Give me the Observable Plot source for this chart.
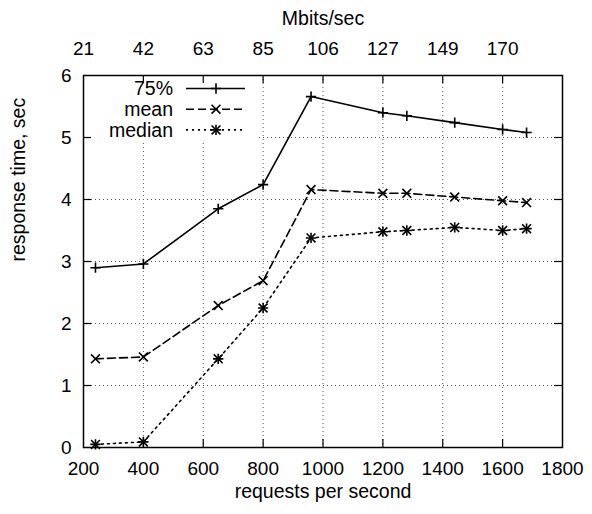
<!DOCTYPE html>
<html><head><meta charset="utf-8">
<script src="https://cdn.jsdelivr.net/npm/d3@7"></script>
<script src="https://cdn.jsdelivr.net/npm/@observablehq/plot@0.6"></script>
<style>html,body{margin:0;padding:0;background:#fff;overflow:hidden}</style>
</head><body><div id="chart"></div>
<script>
// ---- data ----
const requests = [240, 400, 650, 800, 960, 1200, 1280, 1440, 1600, 1680];
const p75    = [2.90, 2.96, 3.85, 4.24, 5.66, 5.40, 5.35, 5.24, 5.13, 5.08];
const meanT  = [1.43, 1.46, 2.29, 2.69, 4.16, 4.10, 4.10, 4.04, 3.98, 3.95];
const medianT= [0.05, 0.09, 1.43, 2.25, 3.38, 3.48, 3.50, 3.55, 3.50, 3.53];
const seriesNames = ["75%", "mean", "median"];
const xTicks = [200, 400, 600, 800, 1000, 1200, 1400, 1600, 1800];
const yTicks = [0, 1, 2, 3, 4, 5, 6];
const topTicks = [200, 400, 600, 800, 1000, 1200, 1400, 1600];
const mbitsLabels = ["21", "42", "63", "85", "106", "127", "149", "170"];
const xLabel = "requests per second";
const x2Label = "Mbits/sec";
const yLabel = "response time, sec";

// ---- layout ----
const W = 592, H = 514, mL = 83, mR = 30, mT = 75, mB = 67;
const frameW = W - mL - mR, frameH = H - mT - mB;
const tickLen = 8;
const FS = 19;
const FS_T = 19.5;
const FONT = "'Liberation Sans', Arial, Helvetica, sans-serif";

const rows = (vals, name) => requests.map((r, i) => ({x: r, y: vals[i], s: name}));
const d75 = rows(p75, seriesNames[0]);
const dMean = rows(meanT, seriesNames[1]);
const dMed = rows(medianT, seriesNames[2]);

const topMap = new Map(topTicks.map((t, i) => [t, mbitsLabels[i]]));
const innerX = xTicks.slice(1, -1);
const innerY = yTicks.slice(1, -1);
const gridStyle = {stroke: "#555", strokeWidth: 1, strokeDasharray: "1,3"};
const tickStyle = {stroke: "black", strokeWidth: 1.2};
const SW = 1.6;
const lineStyle = {stroke: "black", strokeWidth: SW};
const rPlus = 3.4, rTimes = 4.1;
const dashes = [null, "8,4", "2,4"];

// white box under the key that hides the grid
const keyBlank = () => {
  const g = d3.create("svg:g");
  g.append("rect").attr("x", mL + 1).attr("y", mT + 1).attr("width", 175).attr("height", 66).attr("fill", "white");
  return g.node();
};

const keyMark = () => {
  const g = d3.create("svg:g").attr("font-family", FONT).attr("font-size", FS_T);
  const symSets = [[["plus", rPlus]], [["times", rTimes]], [["plus", rPlus], ["times", rTimes]]];
  const symMap = {plus: d3.symbolPlus, times: d3.symbolTimes};
  seriesNames.forEach((name, i) => {
    const cy = 88.5 + i * 20.7;
    g.append("text").attr("x", 173).attr("y", cy + 6.8).attr("text-anchor", "end").attr("fill", "black").text(name);
    const ln = g.append("line").attr("x1", 186).attr("x2", 245).attr("y1", cy).attr("y2", cy)
      .attr("stroke", "black").attr("stroke-width", SW);
    if (dashes[i]) ln.attr("stroke-dasharray", dashes[i]);
    symSets[i].forEach(([s, r]) => {
      g.append("path").attr("transform", `translate(216,${cy})`)
        .attr("d", d3.symbol(symMap[s], Math.PI * r * r)())
        .attr("fill", "none").attr("stroke", "black").attr("stroke-width", SW);
    });
  });
  return g.node();
};

const chart = Plot.plot({
  width: W, height: H,
  marginLeft: mL, marginRight: mR, marginTop: mT, marginBottom: mB,
  style: {fontFamily: FONT, fontSize: FS + "px", background: "white", color: "black"},
  x: {domain: [200, 1800]},
  y: {domain: [0, 6]},
  marks: [
    // grid
    Plot.ruleX(innerX, {x: d => d, ...gridStyle}),
    Plot.ruleY(innerY, {y: d => d, ...gridStyle}),
    keyBlank,
    // inward ticks (mirrored on all sides)
    Plot.ruleX(innerX, {x: d => d, insetTop: frameH - tickLen, ...tickStyle}),
    Plot.ruleX(innerX, {x: d => d, insetBottom: frameH - tickLen, ...tickStyle}),
    Plot.ruleY(innerY, {y: d => d, insetRight: frameW - tickLen, ...tickStyle}),
    Plot.ruleY(innerY, {y: d => d, insetLeft: frameW - tickLen, ...tickStyle}),
    Plot.frame({stroke: "black", strokeWidth: 1.5}),
    // axes
    Plot.axisX(xTicks, {anchor: "bottom", tickSize: 0, tickPadding: 14, tickFormat: d => String(d), label: null, fontSize: FS}),
    Plot.axisX(topTicks, {anchor: "top", tickSize: 0, tickPadding: 21, tickFormat: d => topMap.get(d), label: null, fontSize: FS}),
    Plot.axisY(yTicks, {anchor: "left", tickSize: 0, tickPadding: 12, tickFormat: d => String(d), label: null, fontSize: FS}),
    Plot.text([xLabel], {text: d => d, frameAnchor: "bottom", dy: 50, fontSize: FS_T}),
    Plot.text([x2Label], {text: d => d, frameAnchor: "top", dy: -64, fontSize: FS_T}),
    Plot.text([yLabel], {text: d => d, frameAnchor: "left", dx: -65, rotate: -90, fontSize: FS_T}),
    // series
    Plot.line(d75, {x: "x", y: "y", ...lineStyle}),
    Plot.line(dMean, {x: "x", y: "y", ...lineStyle, strokeDasharray: dashes[1]}),
    Plot.line(dMed, {x: "x", y: "y", ...lineStyle, strokeDasharray: dashes[2]}),
    Plot.dot(d75, {x: "x", y: "y", symbol: "plus", r: rPlus, stroke: "black", strokeWidth: SW}),
    Plot.dot(dMean, {x: "x", y: "y", symbol: "times", r: rTimes, stroke: "black", strokeWidth: SW}),
    Plot.dot(dMed, {x: "x", y: "y", symbol: "plus", r: rPlus, stroke: "black", strokeWidth: SW}),
    Plot.dot(dMed, {x: "x", y: "y", symbol: "times", r: rTimes, stroke: "black", strokeWidth: SW}),
    keyMark
  ]
});
document.getElementById("chart").appendChild(chart);
</script>
</body></html>
